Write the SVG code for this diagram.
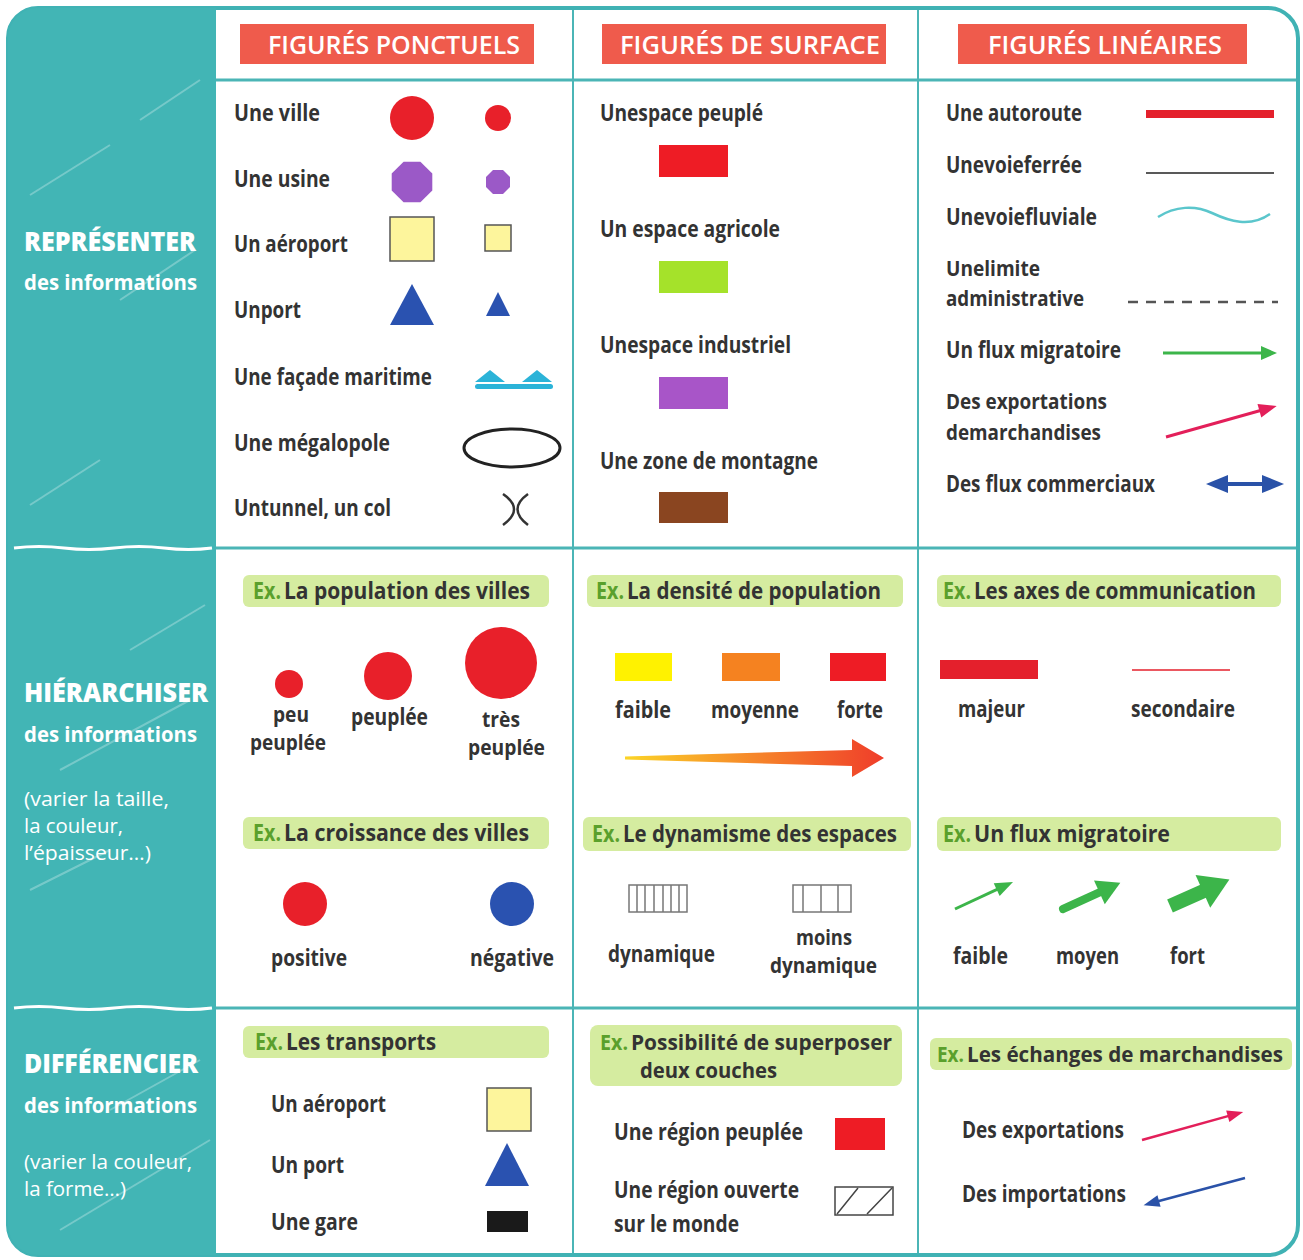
<svg xmlns="http://www.w3.org/2000/svg" width="1303" height="1260" viewBox="0 0 1303 1260">
<style>
text{font-family:'Open Sans','DejaVu Sans Condensed','Liberation Sans',sans-serif}
.t{font-weight:700;font-size:23px;fill:#333}
.s{font-size:20.5px}
.h{font-weight:600;font-size:26px;fill:#fff}
.L1{font-weight:800;font-size:26px;fill:#fff}
.L2{font-weight:700;font-size:21px;fill:#fff}
.L3{font-weight:400;font-size:19.5px;fill:#fff}
.ex{fill:#5aa02c}
.band{fill:#d5eca0}
.hbox{fill:#ef5b4c}
.grid{stroke:#4bb5b6;fill:none}
.deco{stroke:#fff;stroke-opacity:.28;stroke-width:2}
</style>
<defs>
<linearGradient id="grad" x1="625" y1="0" x2="884" y2="0" gradientUnits="userSpaceOnUse">
<stop offset="0" stop-color="#fbd427"/><stop offset="0.5" stop-color="#f6862a"/><stop offset="1" stop-color="#ef3d2a"/>
</linearGradient>
</defs>
<g id="frame">
<rect x="8" y="8" width="1290" height="1247" rx="30" fill="#fff" stroke="#40b2b4" stroke-width="4"/>
<path d="M38,8 H216 V1255 H38 A30,30 0 0 1 8,1225 V38 A30,30 0 0 1 38,8 Z" fill="#42b5b5"/>
<line class="deco" x1="30" y1="195" x2="110" y2="145"/>
<line class="deco" x1="140" y1="120" x2="200" y2="80"/>
<line class="deco" x1="120" y1="300" x2="195" y2="250"/>
<line class="deco" x1="30" y1="505" x2="100" y2="460"/>
<line class="deco" x1="130" y1="650" x2="205" y2="605"/>
<line class="deco" x1="60" y1="770" x2="190" y2="700"/>
<line class="deco" x1="30" y1="890" x2="110" y2="850"/>
<line class="deco" x1="110" y1="1110" x2="200" y2="1060"/>
<line class="deco" x1="60" y1="1230" x2="210" y2="1140"/>
<path d="M14,548 q25,-3 50,0 t50,0 t50,0 t48,0" stroke="#fff" stroke-width="3" fill="none"/>
<path d="M14,1008 q25,-3 50,0 t50,0 t50,0 t48,0" stroke="#fff" stroke-width="3" fill="none"/>
<line class="grid" x1="216" y1="80" x2="1296" y2="80" stroke-width="3"/>
<line class="grid" x1="216" y1="548" x2="1296" y2="548" stroke-width="3"/>
<line class="grid" x1="216" y1="1008" x2="1296" y2="1008" stroke-width="3"/>
<line class="grid" x1="573" y1="10" x2="573" y2="1253" stroke-width="2"/>
<line class="grid" x1="918" y1="10" x2="918" y2="1253" stroke-width="2"/>
</g>
<g id="left-labels">
<text class="L1" x="24" y="251" textLength="172" lengthAdjust="spacingAndGlyphs">REPRÉSENTER</text>
<text class="L2" x="24" y="290" textLength="173" lengthAdjust="spacingAndGlyphs">des informations</text>
<text class="L1" x="24" y="702" textLength="184" lengthAdjust="spacingAndGlyphs">HIÉRARCHISER</text>
<text class="L2" x="24" y="742" textLength="173" lengthAdjust="spacingAndGlyphs">des informations</text>
<text class="L3" x="24" y="806" textLength="145" lengthAdjust="spacingAndGlyphs">(varier la taille,</text>
<text class="L3" x="24" y="833" textLength="99" lengthAdjust="spacingAndGlyphs">la couleur,</text>
<text class="L3" x="24" y="860" textLength="127" lengthAdjust="spacingAndGlyphs">l’épaisseur…)</text>
<text class="L1" x="24" y="1073" textLength="174" lengthAdjust="spacingAndGlyphs">DIFFÉRENCIER</text>
<text class="L2" x="24" y="1113" textLength="173" lengthAdjust="spacingAndGlyphs">des informations</text>
<text class="L3" x="24" y="1169" textLength="168" lengthAdjust="spacingAndGlyphs">(varier la couleur,</text>
<text class="L3" x="24" y="1196" textLength="102" lengthAdjust="spacingAndGlyphs">la forme…)</text>
</g>
<g id="headers">
<rect class="hbox" x="240" y="24" width="294" height="40"/>
<text class="h" x="268" y="54" textLength="252" lengthAdjust="spacingAndGlyphs">FIGURÉS PONCTUELS</text>
<rect class="hbox" x="602" y="24" width="284" height="40"/>
<text class="h" x="620" y="54" textLength="260" lengthAdjust="spacingAndGlyphs">FIGURÉS DE SURFACE</text>
<rect class="hbox" x="958" y="24" width="289" height="40"/>
<text class="h" x="988" y="54" textLength="234" lengthAdjust="spacingAndGlyphs">FIGURÉS LINÉAIRES</text>
</g>
<g id="ponctuels">
<text class="t" x="234" y="121" textLength="86" lengthAdjust="spacingAndGlyphs">Une ville</text>
<circle cx="412" cy="118" r="22" fill="#e8202a"/>
<circle cx="498" cy="118" r="13" fill="#e8202a"/>
<text class="t" x="234" y="187" textLength="96" lengthAdjust="spacingAndGlyphs">Une usine</text>
<polygon points="432.3,190.4 420.4,202.3 403.6,202.3 391.7,190.4 391.7,173.6 403.6,161.7 420.4,161.7 432.3,173.6" fill="#9b59c7"/>
<polygon points="510,187 503,194 493,194 486,187 486,177 493,170 503,170 510,177" fill="#9b59c7"/>
<text class="t" x="234" y="252" textLength="114" lengthAdjust="spacingAndGlyphs">Un aéroport</text>
<rect x="390" y="217" width="44" height="44" fill="#fdf59c" stroke="#555" stroke-width="1.5"/>
<rect x="485" y="225" width="26" height="26" fill="#fdf59c" stroke="#555" stroke-width="1.5"/>
<text class="t" x="234" y="318" textLength="67" lengthAdjust="spacingAndGlyphs">Unport</text>
<polygon points="412,284 434,325 390,325" fill="#2a52b0"/>
<polygon points="498,292 510,316 486,316" fill="#2a52b0"/>
<text class="t" x="234" y="385" textLength="198" lengthAdjust="spacingAndGlyphs">Une façade maritime</text>
<polygon points="475,382 490,370 505,382" fill="#2bb3d8"/>
<polygon points="522,382 537,370 552,382" fill="#2bb3d8"/>
<rect x="475" y="384" width="78" height="5" rx="2.5" fill="#2bb3d8"/>
<text class="t" x="234" y="451" textLength="156" lengthAdjust="spacingAndGlyphs">Une mégalopole</text>
<ellipse cx="512" cy="448" rx="48" ry="19" fill="none" stroke="#222" stroke-width="3"/>
<text class="t" x="234" y="516" textLength="157" lengthAdjust="spacingAndGlyphs">Untunnel, un col</text>
<path d="M503,494 Q525,509 503,525 M528,494 Q507,509 528,525" fill="none" stroke="#333" stroke-width="2.5"/>
</g>
<g id="surface">
<text class="t" x="600" y="121" textLength="163" lengthAdjust="spacingAndGlyphs">Unespace peuplé</text>
<rect x="659" y="145" width="69" height="32" fill="#ee1c25"/>
<text class="t" x="600" y="237" textLength="180" lengthAdjust="spacingAndGlyphs">Un espace agricole</text>
<rect x="659" y="261" width="69" height="32" fill="#a5e22a"/>
<text class="t" x="600" y="353" textLength="191" lengthAdjust="spacingAndGlyphs">Unespace industriel</text>
<rect x="659" y="377" width="69" height="32" fill="#a855c8"/>
<text class="t" x="600" y="469" textLength="218" lengthAdjust="spacingAndGlyphs">Une zone de montagne</text>
<rect x="659" y="492" width="69" height="31" fill="#8a4520"/>
</g>
<g id="lineaires">
<text class="t" x="946" y="121" textLength="136" lengthAdjust="spacingAndGlyphs">Une autoroute</text>
<line x1="1146" y1="114" x2="1274" y2="114" stroke="#e4202c" stroke-width="8"/>
<text class="t" x="946" y="173" textLength="136" lengthAdjust="spacingAndGlyphs">Unevoieferrée</text>
<line x1="1146" y1="173" x2="1274" y2="173" stroke="#222" stroke-width="1.5"/>
<text class="t" x="946" y="225" textLength="151" lengthAdjust="spacingAndGlyphs">Unevoiefluviale</text>
<path d="M1158,217 C1175,206 1195,205 1212,213 S1250,228 1270,214" fill="none" stroke="#5bc6cc" stroke-width="2.5"/>
<text class="t s" x="946" y="276" textLength="94" lengthAdjust="spacingAndGlyphs">Unelimite</text>
<text class="t s" x="946" y="306" textLength="138" lengthAdjust="spacingAndGlyphs">administrative</text>
<line x1="1128" y1="302" x2="1278" y2="302" stroke="#555" stroke-width="2.5" stroke-dasharray="10 8"/>
<text class="t" x="946" y="358" textLength="175" lengthAdjust="spacingAndGlyphs">Un flux migratoire</text>
<line x1="1163" y1="353" x2="1264" y2="353" stroke="#3cb54a" stroke-width="3"/>
<polygon points="1261,346 1277,353 1261,360" fill="#3cb54a"/>
<text class="t s" x="946" y="409" textLength="161" lengthAdjust="spacingAndGlyphs">Des exportations</text>
<text class="t s" x="946" y="440" textLength="155" lengthAdjust="spacingAndGlyphs">demarchandises</text>
<g transform="translate(1166,437) rotate(-15.7)">
<line x1="0" y1="0" x2="100" y2="0" stroke="#e31f5a" stroke-width="3"/>
<polygon points="97,-7 115,0 97,7" fill="#e31f5a"/>
</g>
<text class="t" x="946" y="492" textLength="209" lengthAdjust="spacingAndGlyphs">Des flux commerciaux</text>
<line x1="1220" y1="484" x2="1270" y2="484" stroke="#2a52a8" stroke-width="4"/>
<polygon points="1206,484 1228,475 1228,493" fill="#2a52a8"/>
<polygon points="1284,484 1262,475 1262,493" fill="#2a52a8"/>
</g>
<g id="hier-ponctuels">
<rect class="band" x="243" y="575" width="306" height="32" rx="6"/>
<text class="t ex" x="253" y="599" textLength="28" lengthAdjust="spacingAndGlyphs">Ex.</text>
<text class="t" x="284" y="599" textLength="246" lengthAdjust="spacingAndGlyphs">La population des villes</text>
<circle cx="289" cy="684" r="14" fill="#e8202a"/>
<circle cx="388" cy="676" r="24" fill="#e8202a"/>
<circle cx="501" cy="663" r="36" fill="#e8202a"/>
<text class="t s" x="273" y="722" textLength="36" lengthAdjust="spacingAndGlyphs">peu</text>
<text class="t s" x="250" y="750" textLength="76" lengthAdjust="spacingAndGlyphs">peuplée</text>
<text class="t" x="351" y="725" textLength="77" lengthAdjust="spacingAndGlyphs">peuplée</text>
<text class="t s" x="482" y="727" textLength="38" lengthAdjust="spacingAndGlyphs">très</text>
<text class="t s" x="468" y="755" textLength="77" lengthAdjust="spacingAndGlyphs">peuplée</text>
<rect class="band" x="243" y="817" width="306" height="32" rx="6"/>
<text class="t ex" x="253" y="841" textLength="28" lengthAdjust="spacingAndGlyphs">Ex.</text>
<text class="t" x="284" y="841" textLength="245" lengthAdjust="spacingAndGlyphs">La croissance des villes</text>
<circle cx="305" cy="904" r="22" fill="#e8202a"/>
<circle cx="512" cy="904" r="22" fill="#2a52b0"/>
<text class="t" x="271" y="966" textLength="76" lengthAdjust="spacingAndGlyphs">positive</text>
<text class="t" x="470" y="966" textLength="84" lengthAdjust="spacingAndGlyphs">négative</text>
</g>
<g id="hier-surface">
<rect class="band" x="587" y="575" width="316" height="32" rx="6"/>
<text class="t ex" x="596" y="599" textLength="28" lengthAdjust="spacingAndGlyphs">Ex.</text>
<text class="t" x="627" y="599" textLength="254" lengthAdjust="spacingAndGlyphs">La densité de population</text>
<rect x="615" y="653" width="57" height="28" fill="#fff200"/>
<rect x="722" y="653" width="58" height="28" fill="#f58220"/>
<rect x="830" y="653" width="56" height="28" fill="#ee1c25"/>
<text class="t" x="615" y="718" textLength="56" lengthAdjust="spacingAndGlyphs">faible</text>
<text class="t" x="711" y="718" textLength="88" lengthAdjust="spacingAndGlyphs">moyenne</text>
<text class="t" x="837" y="718" textLength="46" lengthAdjust="spacingAndGlyphs">forte</text>
<polygon points="625,756.5 852,750 852,739 884,758 852,777 852,766 625,759.5" fill="url(#grad)"/>
<rect class="band" x="583" y="817" width="328" height="34" rx="6"/>
<text class="t ex" x="592" y="842" textLength="28" lengthAdjust="spacingAndGlyphs">Ex.</text>
<text class="t" x="623" y="842" textLength="274" lengthAdjust="spacingAndGlyphs">Le dynamisme des espaces</text>
<g fill="none" stroke="#777" stroke-width="1.5">
<rect x="629" y="885" width="58" height="27"/>
<path d="M637,885 V912 M645,885 V912 M654,885 V912 M663,885 V912 M671,885 V912 M679,885 V912"/>
<rect x="793" y="885" width="58" height="27"/>
<path d="M803,885 V912 M821,885 V912 M838,885 V912"/>
</g>
<text class="t" x="608" y="962" textLength="107" lengthAdjust="spacingAndGlyphs">dynamique</text>
<text class="t s" x="796" y="945" textLength="56" lengthAdjust="spacingAndGlyphs">moins</text>
<text class="t s" x="770" y="973" textLength="107" lengthAdjust="spacingAndGlyphs">dynamique</text>
</g>
<g id="hier-lineaires">
<rect class="band" x="937" y="575" width="344" height="32" rx="6"/>
<text class="t ex" x="943" y="599" textLength="28" lengthAdjust="spacingAndGlyphs">Ex.</text>
<text class="t" x="974" y="599" textLength="282" lengthAdjust="spacingAndGlyphs">Les axes de communication</text>
<rect x="940" y="660" width="98" height="19" fill="#e4202c"/>
<line x1="1132" y1="670" x2="1230" y2="670" stroke="#e4202c" stroke-width="1.5"/>
<text class="t" x="958" y="717" textLength="67" lengthAdjust="spacingAndGlyphs">majeur</text>
<text class="t" x="1131" y="717" textLength="104" lengthAdjust="spacingAndGlyphs">secondaire</text>
<rect class="band" x="937" y="817" width="344" height="34" rx="6"/>
<text class="t ex" x="943" y="842" textLength="28" lengthAdjust="spacingAndGlyphs">Ex.</text>
<text class="t" x="974" y="842" textLength="196" lengthAdjust="spacingAndGlyphs">Un flux migratoire</text>
<g fill="#3cb54a">
<g transform="translate(955,909) rotate(-25)">
<line x1="0" y1="0" x2="50" y2="0" stroke="#3cb54a" stroke-width="3"/>
<polygon points="46,-7 64,0 46,7"/>
</g>
<g transform="translate(1063,909) rotate(-24.5)">
<line x1="0" y1="0" x2="44" y2="0" stroke="#3cb54a" stroke-width="8" stroke-linecap="round"/>
<polygon points="40,-13 63,0 40,13"/>
</g>
<g transform="translate(1170,906) rotate(-24)">
<line x1="0" y1="0" x2="40" y2="0" stroke="#3cb54a" stroke-width="14"/>
<polygon points="36,-18 65,0 36,18"/>
</g>
</g>
<text class="t" x="953" y="964" textLength="55" lengthAdjust="spacingAndGlyphs">faible</text>
<text class="t" x="1056" y="964" textLength="63" lengthAdjust="spacingAndGlyphs">moyen</text>
<text class="t" x="1170" y="964" textLength="35" lengthAdjust="spacingAndGlyphs">fort</text>
</g>
<g id="diff-ponctuels">
<rect class="band" x="243" y="1026" width="306" height="32" rx="6"/>
<text class="t ex" x="255" y="1050" textLength="28" lengthAdjust="spacingAndGlyphs">Ex.</text>
<text class="t" x="286" y="1050" textLength="150" lengthAdjust="spacingAndGlyphs">Les transports</text>
<text class="t" x="271" y="1112" textLength="115" lengthAdjust="spacingAndGlyphs">Un aéroport</text>
<rect x="487" y="1088" width="44" height="43" fill="#fdf59c" stroke="#555" stroke-width="1.5"/>
<text class="t" x="271" y="1173" textLength="73" lengthAdjust="spacingAndGlyphs">Un port</text>
<polygon points="507,1143 529,1186 485,1186" fill="#2a52b0"/>
<text class="t" x="271" y="1230" textLength="87" lengthAdjust="spacingAndGlyphs">Une gare</text>
<rect x="487" y="1211" width="41" height="21" fill="#1a1a1a"/>
</g>
<g id="diff-surface">
<rect class="band" x="590" y="1025" width="312" height="61" rx="8"/>
<text class="t s ex" x="600" y="1050" textLength="28" lengthAdjust="spacingAndGlyphs">Ex.</text>
<text class="t s" x="631" y="1050" textLength="261" lengthAdjust="spacingAndGlyphs">Possibilité de superposer</text>
<text class="t s" x="640" y="1078" textLength="137" lengthAdjust="spacingAndGlyphs">deux couches</text>
<text class="t" x="614" y="1140" textLength="189" lengthAdjust="spacingAndGlyphs">Une région peuplée</text>
<rect x="835" y="1118" width="50" height="32" fill="#ee1c25"/>
<text class="t" x="614" y="1198" textLength="185" lengthAdjust="spacingAndGlyphs">Une région ouverte</text>
<text class="t" x="614" y="1232" textLength="125" lengthAdjust="spacingAndGlyphs">sur le monde</text>
<g fill="none" stroke="#444" stroke-width="1.5">
<rect x="835" y="1187" width="58" height="28"/>
<path d="M837,1214 L858,1188 M867,1214 L892,1188"/>
</g>
</g>
<g id="diff-lineaires">
<rect class="band" x="930" y="1038" width="362" height="32" rx="6"/>
<text class="t s ex" x="937" y="1062" textLength="27" lengthAdjust="spacingAndGlyphs">Ex.</text>
<text class="t s" x="967" y="1062" textLength="316" lengthAdjust="spacingAndGlyphs">Les échanges de marchandises</text>
<text class="t" x="962" y="1138" textLength="162" lengthAdjust="spacingAndGlyphs">Des exportations</text>
<g transform="translate(1142,1140) rotate(-15.5)">
<line x1="0" y1="0" x2="92" y2="0" stroke="#e31f5a" stroke-width="2.5"/>
<polygon points="89,-6 105,0 89,6" fill="#e31f5a"/>
</g>
<text class="t" x="962" y="1202" textLength="164" lengthAdjust="spacingAndGlyphs">Des importations</text>
<g transform="translate(1245,1178) rotate(165)">
<line x1="0" y1="0" x2="92" y2="0" stroke="#2a52a8" stroke-width="2.5"/>
<polygon points="89,-6 105,0 89,6" fill="#2a52a8"/>
</g>
</g>
</svg>
